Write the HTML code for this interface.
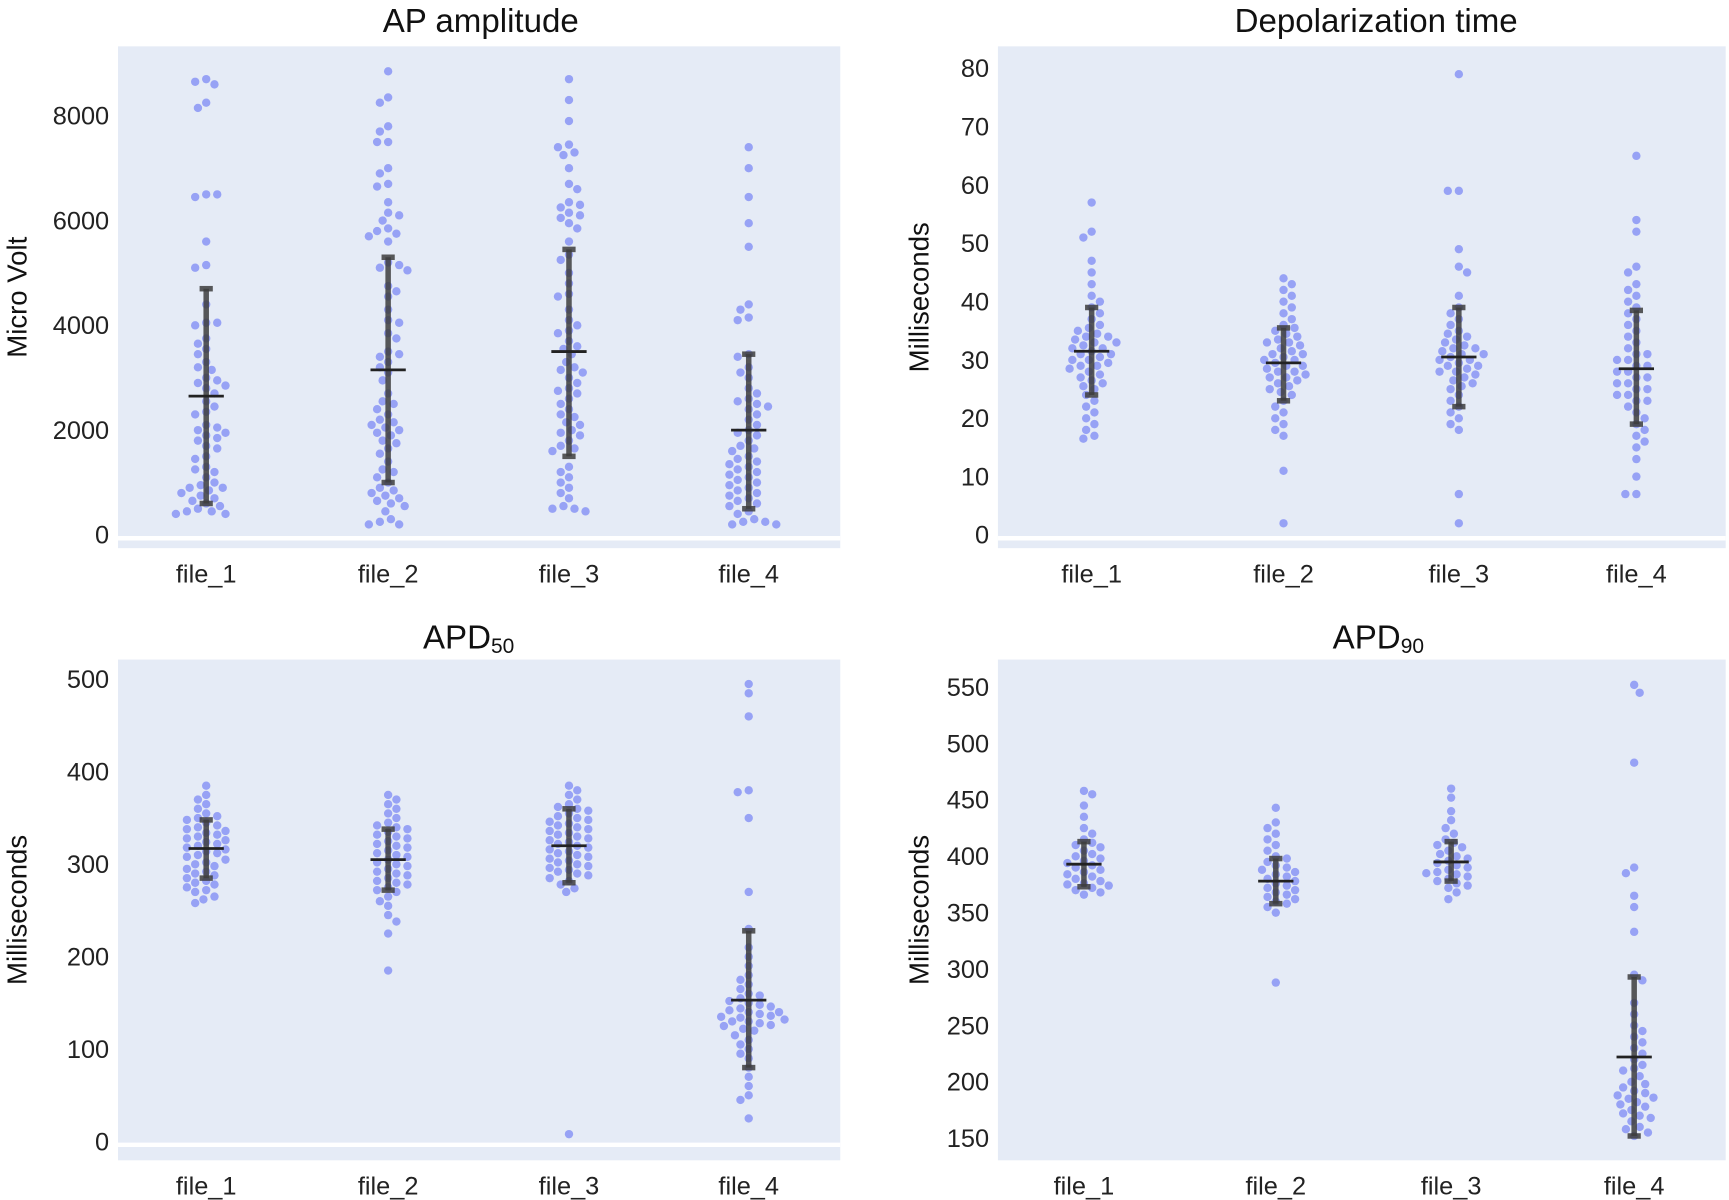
<!DOCTYPE html>
<html><head><meta charset="utf-8">
<style>
html,body{margin:0;padding:0;background:#fff;}
svg{display:block;font-family:"Liberation Sans",sans-serif;}
</style></head>
<body>
<svg id="chart" width="1729" height="1200" viewBox="0 0 1568 1088" preserveAspectRatio="none" xmlns="http://www.w3.org/2000/svg"></svg>
<script>
const categories = ["file_1","file_2","file_3","file_4"];

// Panel 1: AP amplitude (Micro Volt)
const ampF1 = [8700,8600,8650,8250,8150,6500,6450,6500,5600,5150,5100,4400,4050,4050,4000,3750,3650,3550,3450,3300,3200,3150,3000,2950,2900,2850,2800,2700,2550,2450,2350,2300,2100,2050,2000,1950,1900,1850,1800,1700,1650,1500,1450,1300,1250,1200,1100,1000,950,900,900,850,800,750,700,650,600,550,500,450,450,400,400];
const ampF2 = [8850,8350,8250,7800,7700,7500,7500,7000,6900,6700,6650,6350,6150,6100,6000,5850,5800,5750,5700,5600,5200,5150,5100,5050,4750,4650,4550,4300,4100,4050,3850,3750,3500,3450,3400,3300,3200,3100,2950,2700,2550,2500,2400,2300,2200,2150,2100,2050,2000,1950,1900,1800,1750,1650,1550,1400,1250,1200,1100,1000,900,850,800,750,700,650,600,550,450,300,250,200,200];
const ampF3 = [8700,8300,7900,7450,7400,7300,7250,7000,6700,6600,6350,6300,6250,6150,6100,6050,5950,5850,5600,5350,5250,5000,4800,4600,4550,4300,4100,4000,3900,3850,3700,3600,3550,3450,3300,3200,3150,3100,3000,2900,2800,2750,2700,2600,2500,2400,2300,2250,2150,2100,2000,1950,1900,1800,1700,1650,1600,1300,1200,1100,1000,900,800,700,550,500,500,450];
const ampF4 = [7400,7000,6450,5950,5500,4400,4300,4150,4100,3450,3400,3200,3100,3000,2800,2700,2600,2550,2500,2450,2400,2300,2200,2100,2000,1950,1900,1800,1700,1650,1600,1500,1450,1400,1350,1300,1250,1200,1150,1100,1050,1000,950,900,850,800,750,700,650,600,550,450,400,300,250,250,200,200];
const ampMean = [2650,3150,3500,2000];
const ampLow = [600,1000,1500,500];
const ampHigh = [4700,5300,5450,3450];
const ampTicks = [0,2000,4000,6000,8000];

// Panel 2: Depolarization time
const depF1 = [57,52,51,47,45,43,41,40,39,38,37,36,35.5,35,34.5,34,34,33.5,33,33,32.5,32,32,31.5,31,31,30.5,30,30,29.5,29,29,28.5,28,27.5,27,26.5,26,25.5,25,24,23,22,21,20,19,18,17,16.5];
const depF2 = [44,43,42,41,40,39,38,37,36,35.5,35,34.5,34,33.5,33,33,32.5,32,31.5,31,31,30.5,30,30,29.5,29,29,28.5,28,28,27.5,27,27,26.5,26,25.5,25,24.5,24,23,22,21,20,19,18,17,11,2];
const depF3 = [79,59,59,49,46,45,41,39,38,37,36,35,34.5,34,33.5,33,32.5,32,32,31.5,31,31,30.5,30,30,29.5,29,29,28.5,28,28,27.5,27,26.5,26,25.5,25,24,23,22,21,20,19,18,7,2];
const depF4 = [65,54,52,46,45,43,42,41,40,39,38,37,36,35,34,33,32,31,31,30,30,29,29,28,28,27,27,26,26,25,25,24,24,23,23,22,21,20,19,18,17,16,15,13,10,7,7];
const depMean = [31.5,29.5,30.5,28.5];
const depLow = [24,23,22,19];
const depHigh = [39,35.5,39,38.5];
const depTicks = [0,10,20,30,40,50,60,70,80];

// Panel 3: APD50
const a50F1 = [385,375,370,365,360,355,352,350,348,345,342,340,338,336,334,332,330,328,326,324,322,320,318,316,314,312,310,308,305,302,300,298,295,292,290,288,285,282,280,278,275,272,270,265,262,258];
const a50F2 = [375,370,365,360,355,350,345,342,340,338,335,332,330,328,325,322,320,318,315,312,310,308,305,302,300,298,295,292,290,288,285,282,280,278,275,272,270,265,260,255,245,238,225,185];
const a50F3 = [385,380,375,370,365,362,360,358,355,352,350,348,346,344,342,340,338,336,334,332,330,328,326,324,322,320,318,316,314,312,310,308,306,304,302,300,298,296,294,292,290,288,285,282,278,274,270,8];
const a50F4 = [495,485,460,380,378,350,270,230,210,200,190,180,175,170,165,160,158,155,152,150,148,146,144,142,140,140,138,136,135,134,132,130,130,128,126,125,122,120,115,110,105,100,95,90,80,70,60,50,45,25];
const a50Mean = [317,305,320,153];
const a50Low = [285,272,280,80];
const a50High = [348,338,360,228];
const a50Ticks = [0,100,200,300,400,500];

// Panel 4: APD90
const a90F1 = [458,455,445,435,425,420,415,412,410,408,405,402,400,398,396,394,392,390,388,386,384,382,380,378,376,375,374,372,370,368,366];
const a90F2 = [443,430,425,420,415,410,405,400,398,395,392,390,388,386,384,382,380,378,376,374,372,370,368,366,364,362,360,358,355,350,288];
const a90F3 = [460,452,440,432,425,420,415,412,410,408,405,402,400,398,396,394,392,390,388,386,385,384,382,380,378,376,374,372,368,362];
const a90F4 = [552,545,483,390,385,365,355,333,295,290,270,260,250,245,240,235,230,225,220,215,212,210,205,200,198,195,192,190,188,186,185,182,180,178,175,172,170,168,165,160,158,155,152];
const a90Mean = [393,378,395,222];
const a90Low = [373,358,378,152];
const a90High = [413,398,413,293];
const a90Ticks = [150,200,250,300,350,400,450,500,550];

const NS = "http://www.w3.org/2000/svg";
const svg = document.getElementById("chart");
function mk(tag, attrs, parent){
  const e = document.createElementNS(NS, tag);
  for (const k in attrs) e.setAttribute(k, attrs[k]);
  (parent||svg).appendChild(e);
  return e;
}

function panel(cfg){
  const g = mk("g", {});
  
  
  const bg = mk("rect", {x:cfg.x0, y:cfg.y0, width:cfg.x1-cfg.x0, height:cfg.y1-cfg.y0, fill:"#E5EBF6"}, g);
  
  
  const y = v => cfg.py0 + (v - cfg.v0) * (cfg.py1 - cfg.py0) / (cfg.v1 - cfg.v0);
  if (cfg.zero){
    const zl = mk("line", {x1:cfg.x0, x2:cfg.x1, y1:y(0)+3, y2:y(0)+3, stroke:"#fff", "stroke-width":4}, g);
    
    
  }
  const t = mk("text", {x:cfg.tx, y:cfg.ty, "text-anchor":"middle", "font-size":30, fill:"#111"}, g);
  
  
  t.textContent = cfg.title;
  if (cfg.sub){
    const s = mk("tspan", {"font-size":19, dy:4}, t);
    s.textContent = cfg.sub;
  }
  cfg.ticks.forEach(v => {
    const tl = mk("text", {x:cfg.x0-8, y:y(v)+8, "text-anchor":"end", "font-size":23, fill:"#222"}, g);
    
    
    tl.textContent = v;
  });
  const yt = mk("text", {x:0, y:0, transform:`translate(${cfg.ytx},${(cfg.y0+cfg.y1)/2}) rotate(-90)`, "text-anchor":"middle", "font-size":25, fill:"#111"}, g);
  
  
  yt.textContent = cfg.ytitle;
  categories.forEach((c,i) => {
    const cx = cfg.cx[i];
    const xl = mk("text", {x:cx, y:cfg.y1+31, "text-anchor":"middle", "font-size":23, fill:"#222"}, g);
    
    
    xl.textContent = c;
    const placed = [];
    const data = cfg.series[i];
    const pg = mk("g", {}, g);
    
    
    data.forEach((v, j) => {
      const py = y(v);
      let off = 0;
      const sgn = j % 2 === 0 ? 1 : -1;
      for (let k=0;k<300;k++){
        const cand = (k%2===0?sgn:-sgn)*Math.ceil(k/2)*2.5;
        let ok = true;
        for (const p of placed){ const dx=p[0]-cand, dy=p[1]-py; if (dx*dx+dy*dy<64){ok=false;break;} }
        if (ok){off=cand;break;}
      }
      placed.push([off,py]);
      const d = mk("circle", {cx:cx+off, cy:py, r:3.8, fill:"#97A2F5"}, pg);
      
      
    });
    const eg = mk("g", {stroke:"#3d3d3d", "stroke-opacity":0.85}, g);
    
    
    mk("line", {x1:cx, x2:cx, y1:y(cfg.low[i]), y2:y(cfg.high[i]), "stroke-width":5}, eg);
    mk("line", {x1:cx-6, x2:cx+6, y1:y(cfg.low[i]), y2:y(cfg.low[i]), "stroke-width":5}, eg);
    mk("line", {x1:cx-6, x2:cx+6, y1:y(cfg.high[i]), y2:y(cfg.high[i]), "stroke-width":5}, eg);
    const m = mk("line", {x1:cx-16, x2:cx+16, y1:y(cfg.mean[i]), y2:y(cfg.mean[i]), stroke:"#222", "stroke-width":2.5}, g);
    
    
  });
}

panel({name:"ap-amplitude-panel", x0:107,x1:762,y0:42,y1:497, v0:0,v1:8000, py0:485, py1:105, zero:true,
  title:"AP amplitude", tx:436, ty:29, ticks:ampTicks, ytitle:"Micro Volt", ytx:24,
  cx:[187,352,516,679], series:[ampF1,ampF2,ampF3,ampF4], mean:ampMean, low:ampLow, high:ampHigh});
panel({name:"depolarization-time-panel", x0:905,x1:1565,y0:42,y1:497, v0:0,v1:80, py0:485, py1:62, zero:true,
  title:"Depolarization time", tx:1248, ty:29, ticks:depTicks, ytitle:"Milliseconds", ytx:842,
  cx:[990,1164,1323,1484], series:[depF1,depF2,depF3,depF4], mean:depMean, low:depLow, high:depHigh});
panel({name:"apd50-panel", x0:107,x1:762,y0:598,y1:1052, v0:0,v1:500, py0:1035, py1:616, zero:true,
  title:"APD", sub:"50", tx:425, ty:588, ticks:a50Ticks, ytitle:"Milliseconds", ytx:24,
  cx:[187,352,516,679], series:[a50F1,a50F2,a50F3,a50F4], mean:a50Mean, low:a50Low, high:a50High});
panel({name:"apd90-panel", x0:905,x1:1565,y0:598,y1:1052, v0:150,v1:550, py0:1032, py1:623, zero:false,
  title:"APD", sub:"90", tx:1250, ty:588, ticks:a90Ticks, ytitle:"Milliseconds", ytx:842,
  cx:[983,1157,1316,1482], series:[a90F1,a90F2,a90F3,a90F4], mean:a90Mean, low:a90Low, high:a90High});
</script>
</body></html>
